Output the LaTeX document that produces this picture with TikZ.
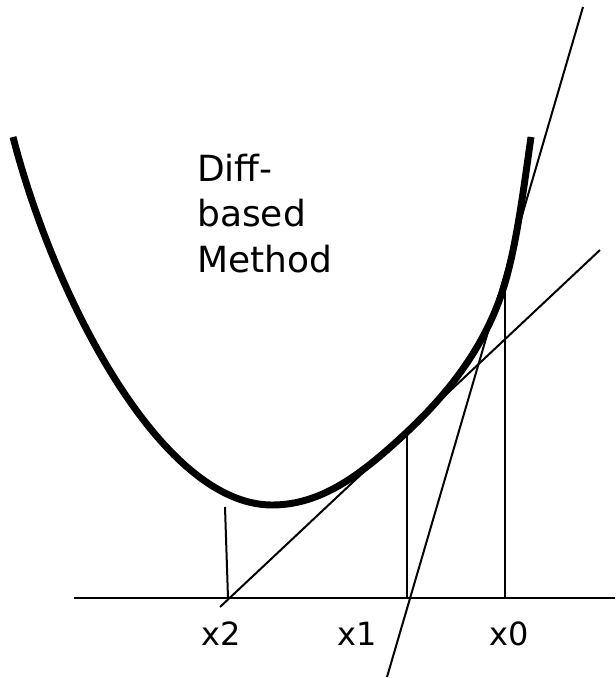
\documentclass[tikz,border=0pt]{standalone}
\usepackage{fontspec}
\setmainfont{DejaVu Sans}
\begin{document}
\begin{tikzpicture}[x=0.75pt,y=-0.75pt,
  thin line/.style={line width=1.5pt,black},
  curveline/.style={line width=5.2pt,black},
  lab/.style={font=\fontsize{24}{28}\selectfont,anchor=base,inner sep=0pt},
  txt/.style={font=\fontsize{27}{34}\selectfont,align=left,anchor=base west,inner sep=0pt}]
\useasboundingbox (0,0) rectangle (615,678);
% curve key points
\coordinate (cL) at (13,137);
\coordinate (cM) at (272,505);
\coordinate (t1) at (407,432);
\coordinate (t0) at (505,283);
\coordinate (cR) at (531,137);
\draw[curveline] (cL) .. controls (55,300) and (162,505) .. (cM)
  .. controls (322,505) and (362,474) .. (t1)
  .. controls (442,399) and (485,351) .. (t0)
  .. controls (517,242) and (524,186) .. (cR);
% axis
\coordinate (axL) at (74,598);
\coordinate (axR) at (615,598);
\draw[thin line] (axL) -- (axR);
% vertical lines
\coordinate (b0) at (505,598);
\coordinate (b1) at (407,598);
\coordinate (a2) at (225,507);
\coordinate (b2) at (228,598);
\draw[thin line] (t0) -- (b0);
\draw[thin line] (t1) -- (b1);
\draw[thin line] (a2) -- (b2);
% tangent lines
\coordinate (s1) at (583,7);
\coordinate (s2) at (387,677);
\draw[thin line] (s1) -- (s2);
\coordinate (h1) at (220,607);
\coordinate (h2) at (600,250);
\draw[thin line] (h1) -- (h2);
% labels
\node[lab] (lx2) at (221,645) {x2};
\node[lab] (lx1) at (357,645) {x1};
\node[lab] (lx0) at (509,645) {x0};
\node[txt] (title) at (197,272) {Diff-\\based\\Method};
\end{tikzpicture}
\end{document}
